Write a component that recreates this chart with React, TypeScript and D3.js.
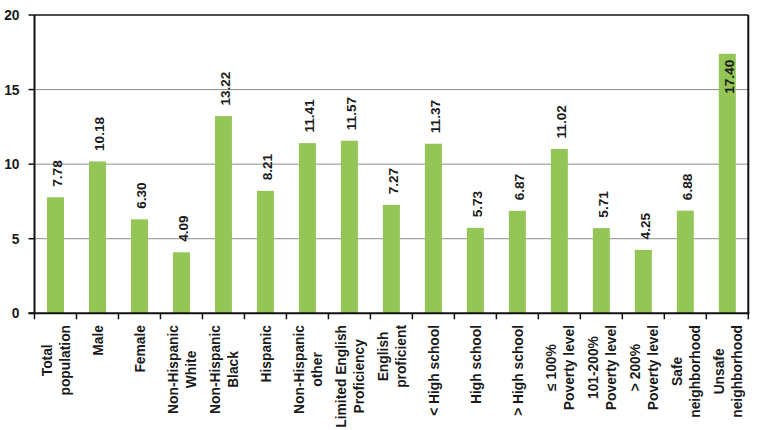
import React, { useEffect, useRef } from "react";
import * as d3 from "d3";

const categories: string[][] = [
  ["Total", "population"],
  ["Male"],
  ["Female"],
  ["Non-Hispanic", "White"],
  ["Non-Hispanic", "Black"],
  ["Hispanic"],
  ["Non-Hispanic", "other"],
  ["Limited English", "Proficiency"],
  ["English", "proficient"],
  ["< High school"],
  ["High school"],
  ["> High school"],
  ["≤ 100%", "Poverty level"],
  ["101-200%", "Poverty level"],
  ["> 200%", "Poverty level"],
  ["Safe", "neighborhood"],
  ["Unsafe", "neighborhood"],
];
const values: number[] = [7.78, 10.18, 6.3, 4.09, 13.22, 8.21, 11.41, 11.57, 7.27, 11.37, 5.73, 6.87, 11.02, 5.71, 4.25, 6.88, 17.4];
const yTicks: number[] = [0, 5, 10, 15, 20];

const W = 758;
const H = 430;
const left = 34.5;
const right = 748.3;
const top = 15;
const bottom = 313.3;
const FONT = "'Liberation Sans', Arial, Helvetica, sans-serif";

export default function App() {
  const ref = useRef<SVGSVGElement | null>(null);
  useEffect(() => {
    const svg = d3.select(ref.current);
    svg.selectAll("*").remove();
    const ids = categories.map((_, i) => String(i));
    const xb = d3.scaleBand<string>().domain(ids).range([left, right]).padding(0);
    const y = d3.scaleLinear().domain([0, 20]).range([bottom, top]);

    // gridlines
    svg.append("g").selectAll("line").data(yTicks.filter((t) => t > 0 && t < 20)).join("line")
      .attr("x1", left).attr("x2", right).attr("y1", (d) => y(d)).attr("y2", (d) => y(d))
      .attr("stroke", "#8c8c8c").attr("stroke-width", 1);

    // bars
    svg.append("g").selectAll("rect").data(values).join("rect")
      .attr("x", (_, i) => xb(String(i))! + xb.bandwidth() / 2 - 8.5)
      .attr("width", 17)
      .attr("y", (d) => y(d))
      .attr("height", (d) => bottom - y(d))
      .attr("fill", "#93c656");

    // frame
    const g = svg.append("g");
    g.append("line").attr("x1", left).attr("x2", right).attr("y1", top).attr("y2", top).attr("stroke", "#111").attr("stroke-width", 1.5);
    g.append("line").attr("x1", right).attr("x2", right).attr("y1", top).attr("y2", bottom).attr("stroke", "#111").attr("stroke-width", 2);
    g.append("line").attr("x1", left).attr("x2", left).attr("y1", top).attr("y2", bottom + 1).attr("stroke", "#111").attr("stroke-width", 2);
    g.append("line").attr("x1", left - 6).attr("x2", right + 1).attr("y1", bottom).attr("y2", bottom).attr("stroke", "#111").attr("stroke-width", 2);

    // y ticks
    g.selectAll("line.yt").data(yTicks).join("line").attr("class", "yt")
      .attr("x1", left - 6).attr("x2", left).attr("y1", (d) => y(d)).attr("y2", (d) => y(d))
      .attr("stroke", "#111").attr("stroke-width", 1.5);
    g.selectAll("text.yl").data(yTicks).join("text").attr("class", "yl")
      .attr("x", 19.5).attr("y", (d) => y(d) + 5)
      .attr("text-anchor", "end").attr("font-family", FONT).attr("font-weight", "bold")
      .attr("font-size", 13.8).attr("fill", "#1a1a1a").text((d) => String(d));

    // x ticks
    const bounds = ids.map((id) => xb(id)!).concat([right]);
    g.selectAll("line.xt").data(bounds).join("line").attr("class", "xt")
      .attr("x1", (d) => d).attr("x2", (d) => d).attr("y1", bottom).attr("y2", bottom + 6)
      .attr("stroke", "#111").attr("stroke-width", 1.5);

    // value labels
    const vl = svg.append("g");
    values.forEach((v, i) => {
      const cx = xb(String(i))! + xb.bandwidth() / 2;
      const t = vl.append("text")
        .attr("font-family", FONT).attr("font-weight", "bold").attr("font-size", 13.6).attr("fill", "#1a1a1a")
        .text(v.toFixed(2));
      const len = (t.node() as SVGTextElement).getComputedTextLength();
      let yy = y(v) - 10.5;
      let anchor = "start";
      if (yy - len < top + 2) {
        yy = y(v) + 6;
        anchor = "end";
      }
      t.attr("text-anchor", anchor).attr("transform", `translate(${cx + 6.8},${yy}) rotate(-90)`);
    });

    // category labels
    const cl = svg.append("g");
    categories.forEach((lines, i) => {
      const cx = xb(String(i))! + xb.bandwidth() / 2;
      const texts = lines.map((ln) =>
        cl.append("text").attr("font-family", FONT).attr("font-weight", "bold").attr("font-size", 13.8)
          .attr("fill", "#1a1a1a").attr("text-anchor", "middle").text(ln)
      );
      const maxW = d3.max(texts, (t) => (t.node() as SVGTextElement).getComputedTextLength()) || 0;
      const lh = 18;
      const n = lines.length;
      texts.forEach((t, k) => {
        const base = cx + (k - (n - 1) / 2) * lh + 5.2;
        t.attr("transform", `translate(${base},${325 + maxW / 2}) rotate(-90)`);
      });
    });
  }, []);
  return (
    <svg ref={ref} width={W} height={H} style={{ position: "absolute", left: 0, top: 0, background: "#fff" }} />
  );
}
